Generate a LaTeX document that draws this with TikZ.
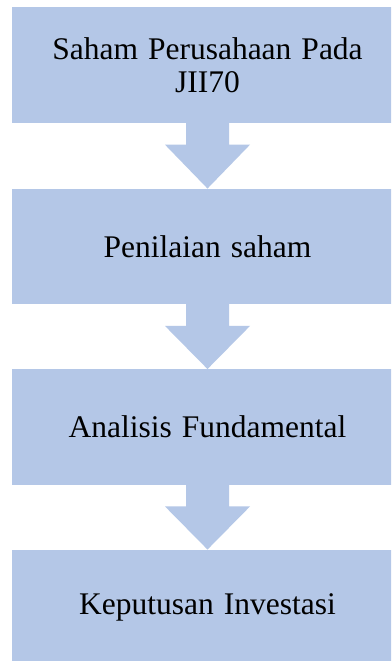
\documentclass[tikz,border=0pt]{standalone}
\usepackage{fontspec}
\setmainfont{Liberation Serif}[WordSpace=1.27]
\usetikzlibrary{calc}
\definecolor{boxblue}{HTML}{B4C7E7}
\tikzset{
  stepbox/.style={rectangle, fill=boxblue, draw=none, inner sep=0pt,
    minimum width=391pt, minimum height=115.5pt, align=center,
    font=\fontsize{31.5}{33}\selectfont},
  blockarrow/.style={fill=boxblue, draw=none}
}
\newcommand{\myblockarrow}[2]{%
  \fill[blockarrow] ($(#1.south)+(-21.5,0.5)$) -- ($(#1.south)+(-21.5,-21.5)$)
    -- ($(#1.south)+(-42.5,-21.5)$) -- (#2.north)
    -- ($(#1.south)+(42.5,-21.5)$) -- ($(#1.south)+(21.5,-21.5)$)
    -- ($(#1.south)+(21.5,0.5)$) -- cycle;}
\begin{document}
\begin{tikzpicture}[x=1pt,y=1pt]
\useasboundingbox (0,0) rectangle (391,661);
\clip (0,0) rectangle (391,661);
\fill[white] (0,0) rectangle (391,661);
\node[stepbox] (b1) at (207.5,595.75) {Saham Perusahaan Pada\\JII70};
\node[stepbox] (b2) at (207.5,414.5) {Penilaian saham};
\node[stepbox] (b3) at (207.5,234) {Analisis Fundamental};
\node[stepbox] (b4) at (207.5,53.5) {Keputusan Investasi};
\myblockarrow{b1}{b2}
\myblockarrow{b2}{b3}
\myblockarrow{b3}{b4}
\end{tikzpicture}
\end{document}
